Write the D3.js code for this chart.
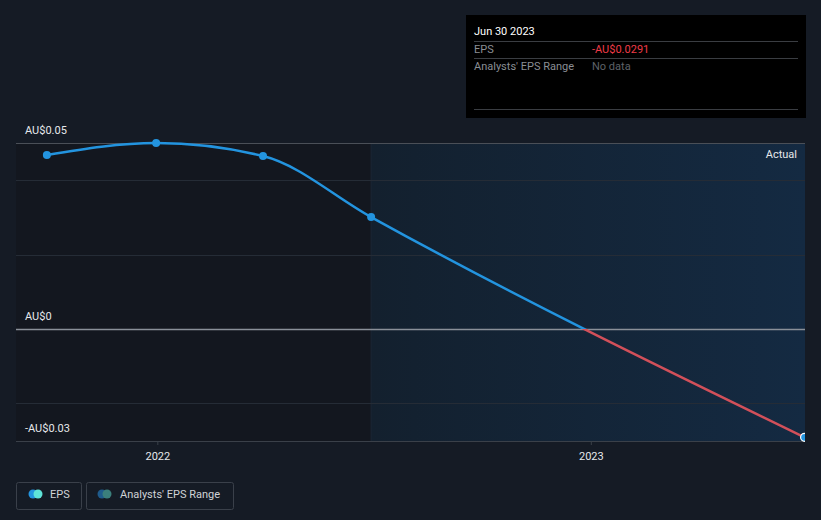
<!DOCTYPE html>
<html><head><meta charset="utf-8">
<script src="https://cdn.jsdelivr.net/npm/d3@7"></script>
<style>
html,body{margin:0;padding:0;background:#151b25;}
svg{display:block;font-family:Roboto,"Noto Sans",sans-serif;}
</style></head>
<body>
<svg id="c" width="821" height="520"></svg>
<script>
const dates = ["2021-09-30","2021-12-31","2022-03-31","2022-06-30","2023-06-30"];
const eps = [0.0468, 0.0500, 0.0465, 0.0301, -0.0291];
const yTickValues = [0.05, 0, -0.03];
const yTickLabels = ["AU$0.05", "AU$0", "-AU$0.03"];
const gridValues = [0.05, 0.04, 0.02, -0.02];
const xTickValues = ["2022-01-01","2023-01-01"];
const xTickLabels = ["2022","2023"];
const tooltipDate = "Jun 30 2023";
const tooltipEPS = "-AU$0.0291";
const tooltipRange = "No data";
const actualStart = "2022-06-30";

const parse = d3.timeParse("%Y-%m-%d");
const data = dates.map((d,i)=>({date:parse(d), v:eps[i]}));

const svg = d3.select("#c");
const L=16, R=805, T=143, B=441;
const x = d3.scaleTime();
x.domain([d3.timeDay.offset(parse("2022-01-01"), -Math.round(141/434*365.25)), parse("2023-06-30")]);
x.range([L, 157 + (parse("2023-06-30")-parse("2022-01-01"))/(365.25*864e5)*434]);
const y = d3.scaleLinear().domain([-0.0301, 0.05]).range([B, T]);

const defs = svg.append("defs");
const grad = defs.append("linearGradient").attr("id","rg").attr("x1","0").attr("x2","1");
grad.append("stop").attr("offset","0").attr("stop-color","#13202e");
grad.append("stop").attr("offset","1").attr("stop-color","#142a42");
defs.append("clipPath").attr("id","plot").append("rect").attr("x",L).attr("y",0).attr("width",R-L).attr("height",B+1);

svg.append("rect").attr("x",L).attr("y",T).attr("width",x(parse(actualStart))-L).attr("height",B-T).attr("fill","#13171f");
svg.append("rect").attr("x",x(parse(actualStart))).attr("y",T).attr("width",R-x(parse(actualStart))).attr("height",B-T).attr("fill","url(#rg)");
svg.append("line").attr("x1",x(parse(actualStart))).attr("x2",x(parse(actualStart))).attr("y1",T).attr("y2",B).attr("stroke","#1b2634").attr("stroke-width",1);

svg.append("g").selectAll("line").data(gridValues).join("line")
  .attr("x1",L).attr("x2",R).attr("y1",d=>Math.round(y(d))+0.5).attr("y2",d=>Math.round(y(d))+0.5)
  .attr("stroke",d=>d===0.05?"#4a4f57":"#252c36").attr("stroke-width",1);
svg.append("line").attr("x1",L).attr("x2",R).attr("y1",B+0.5).attr("y2",B+0.5).attr("stroke","#3a4049");
svg.append("line").attr("x1",L).attr("x2",R).attr("y1",Math.round(y(0))+0.5).attr("y2",Math.round(y(0))+0.5).attr("stroke","#8a9099").attr("stroke-width",1.5);

svg.append("g").selectAll("text").data(yTickValues).join("text")
  .attr("x",25).attr("y",d=>y(d)-9).attr("fill","#e6e8eb").attr("font-size",11)
  .text((d,i)=>yTickLabels[i]);

const xa = svg.append("g").attr("transform",`translate(0,${B})`)
  .call(d3.axisBottom(x).tickValues(xTickValues.map(parse)).tickFormat((d,i)=>xTickLabels[i]).tickSize(4));
xa.select(".domain").remove();
xa.selectAll("line").attr("stroke","#3a4049");
xa.selectAll("text").attr("fill","#e6e8eb").attr("font-size",11).attr("font-family","Roboto,sans-serif").attr("dy","1.1em");

const line = d3.line().x(d=>x(d.date)).y(d=>y(d.v)).curve(d3.curveMonotoneX);
defs.append("clipPath").attr("id","above").append("rect").attr("x",0).attr("y",0).attr("width",821).attr("height",y(0));
defs.append("clipPath").attr("id","below").append("rect").attr("x",0).attr("y",y(0)).attr("width",821).attr("height",520);
svg.append("path").datum(data).attr("d",line).attr("fill","none").attr("stroke","#2394df").attr("stroke-width",2.5).attr("clip-path","url(#above)");
svg.append("path").datum(data).attr("d",line).attr("fill","none").attr("stroke","#d2505a").attr("stroke-width",2.5).attr("clip-path","url(#below)");

const pts = svg.append("g").attr("clip-path","url(#plot)");
pts.selectAll("circle").data(data.slice(0,-1)).join("circle")
  .attr("cx",d=>x(d.date)).attr("cy",d=>y(d.v)).attr("r",4).attr("fill","#2394df");
const last = data[data.length-1];
pts.append("circle").attr("cx",x(last.date)).attr("cy",y(last.v)).attr("r",4).attr("fill","#2394df").attr("stroke","#ffffff").attr("stroke-width",1.2);

svg.append("text").attr("x",797).attr("y",158).attr("text-anchor","end").attr("fill","#e6e8eb").attr("font-size",11).text("Actual");

const tt = svg.append("g");
tt.append("rect").attr("x",466).attr("y",15).attr("width",340).attr("height",103).attr("fill","#000000");
tt.append("text").attr("x",474).attr("y",35).attr("fill","#ffffff").attr("font-size",11).text(tooltipDate);
[41,58,109].forEach(yy=>tt.append("line").attr("x1",474).attr("x2",798).attr("y1",yy+0.5).attr("y2",yy+0.5).attr("stroke","#3a3d42"));
tt.append("text").attr("x",474).attr("y",53).attr("fill","#8a8e94").attr("font-size",11).text("EPS");
tt.append("text").attr("x",592).attr("y",53).attr("fill","#ef3b47").attr("font-size",11).text(tooltipEPS);
tt.append("text").attr("x",474).attr("y",70).attr("fill","#8a8e94").attr("font-size",11).text("Analysts' EPS Range");
tt.append("text").attr("x",592).attr("y",70).attr("fill","#5e6268").attr("font-size",11).text(tooltipRange);

const lg = svg.append("g");
lg.append("rect").attr("x",16.5).attr("y",482.5).attr("width",65).attr("height",27).attr("rx",2).attr("fill","none").attr("stroke","#3a404a");
lg.append("circle").attr("cx",33).attr("cy",494).attr("r",4.5).attr("fill","#2394df");
lg.append("circle").attr("cx",38).attr("cy",494).attr("r",4.5).attr("fill","#5fe3d8");
lg.append("text").attr("x",50).attr("y",498).attr("fill","#d0d3d7").attr("font-size",11).text("EPS");
lg.append("rect").attr("x",86.5).attr("y",482.5).attr("width",147).attr("height",27).attr("rx",2).attr("fill","none").attr("stroke","#3a404a");
lg.append("circle").attr("cx",102).attr("cy",494).attr("r",4.5).attr("fill","#1f5b8c");
lg.append("circle").attr("cx",107).attr("cy",494).attr("r",4.5).attr("fill","#3b7f7c");
lg.append("text").attr("x",120).attr("y",498).attr("fill","#d0d3d7").attr("font-size",11).text("Analysts' EPS Range");
</script>
</body></html>
